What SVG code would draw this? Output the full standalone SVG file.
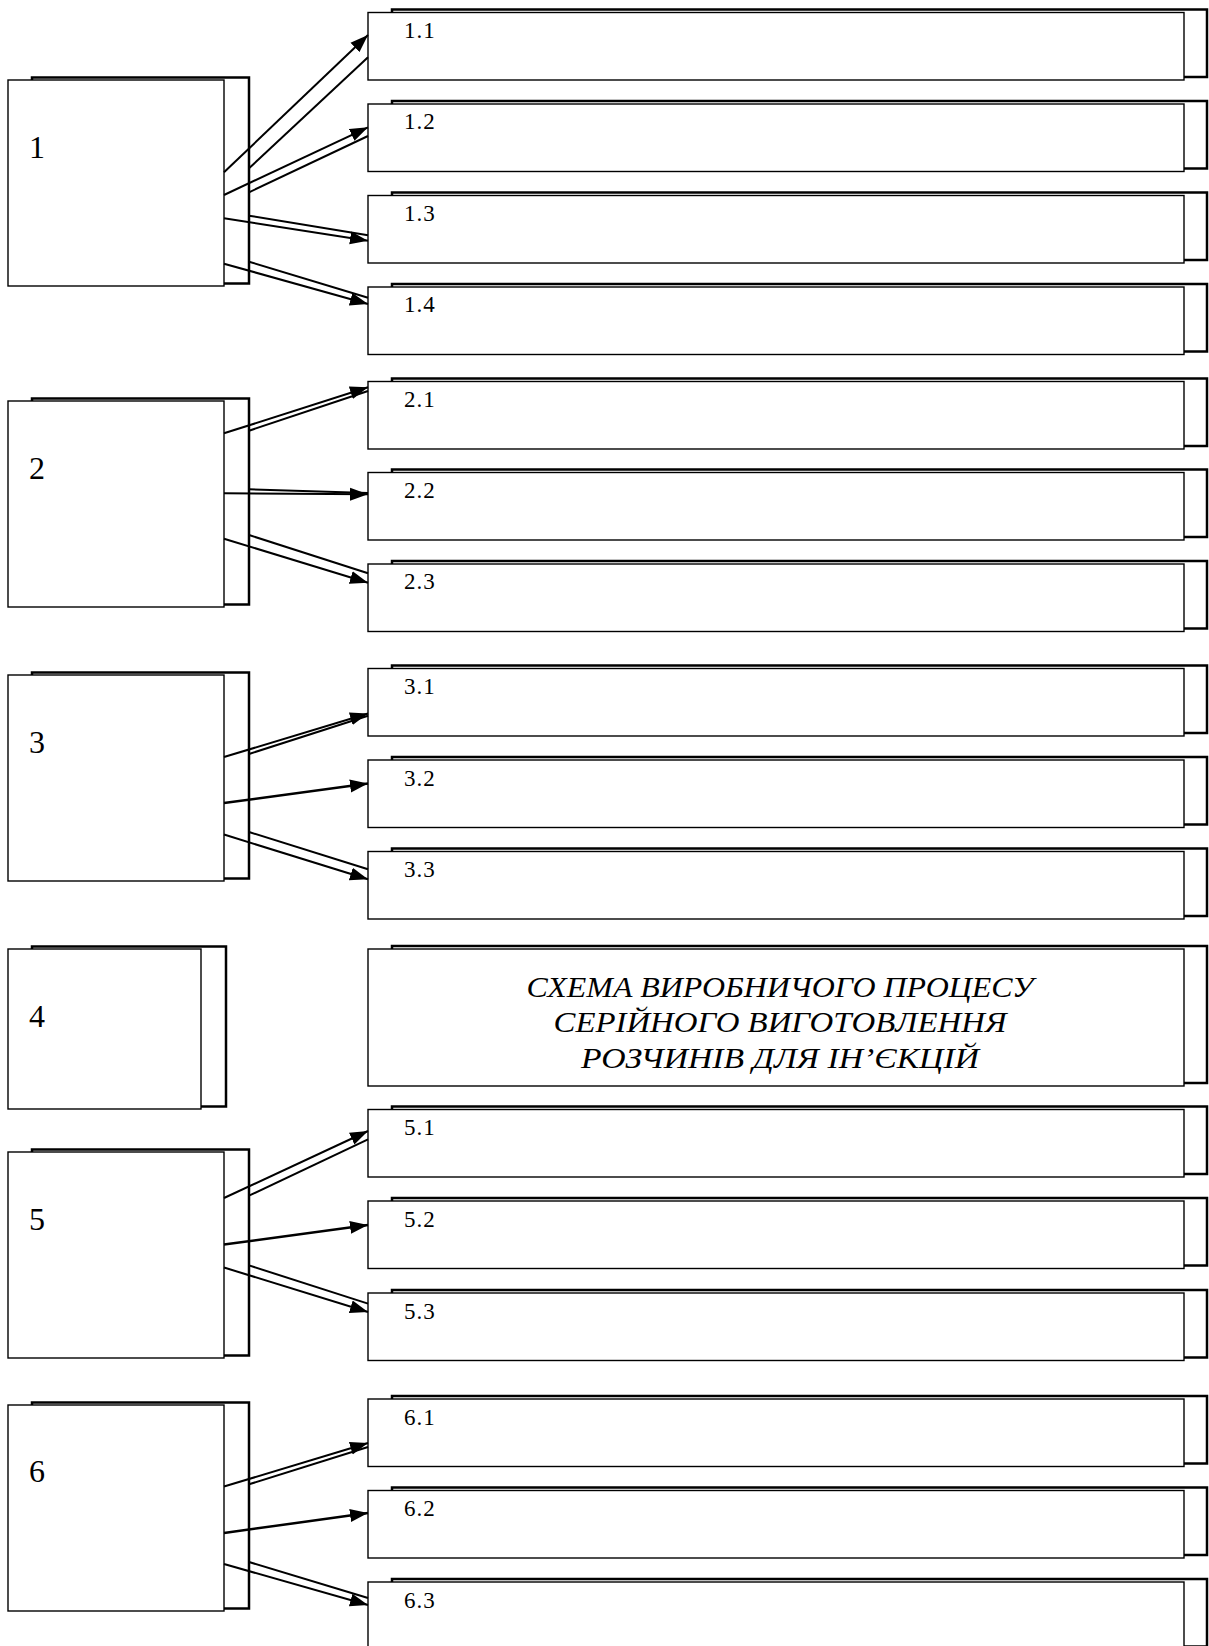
<svg xmlns="http://www.w3.org/2000/svg" width="1209" height="1646" viewBox="0 0 1209 1646">
<style>
.back{fill:#fff;stroke:#000;stroke-width:2.5}
.front{fill:#fff;stroke:#000;stroke-width:1.4}
.lbl{font-family:"Liberation Serif","Times New Roman",serif;font-size:32px;fill:#000}
.sub{font-size:23px;letter-spacing:1px}
.title{font-family:"Liberation Serif","Times New Roman",serif;font-size:30px;font-style:italic;fill:#000;text-anchor:middle}
#connectors line{stroke:#000;stroke-width:2;fill:none}
#connectors .a{marker-end:url(#ah)}
</style>
<defs>
<marker id="ah" markerUnits="userSpaceOnUse" markerWidth="20" markerHeight="14" refX="18" refY="7" orient="auto">
<path d="M0,0.5 L18,7 L0,13.5 z" fill="#000"/>
</marker>
</defs>
<rect width="1209" height="1646" fill="#fff"/>

<!-- source nodes -->
<g id="n1"><rect class="back" x="32" y="77.5" width="217" height="206"/><rect class="front" x="8" y="80" width="216" height="206"/><text class="lbl" x="29" y="158">1</text></g>
<g id="n2"><rect class="back" x="32" y="398.5" width="217" height="206"/><rect class="front" x="8" y="401" width="216" height="206"/><text class="lbl" x="29" y="479">2</text></g>
<g id="n3"><rect class="back" x="32" y="672.5" width="217" height="206"/><rect class="front" x="8" y="675" width="216" height="206"/><text class="lbl" x="29" y="753">3</text></g>
<g id="n4"><rect class="back" x="32" y="946.5" width="194" height="160"/><rect class="front" x="8" y="949" width="193" height="160"/><text class="lbl" x="29" y="1027">4</text></g>
<g id="n5"><rect class="back" x="32" y="1149.5" width="217" height="206"/><rect class="front" x="8" y="1152" width="216" height="206"/><text class="lbl" x="29" y="1230">5</text></g>
<g id="n6"><rect class="back" x="32" y="1402.5" width="217" height="206"/><rect class="front" x="8" y="1405" width="216" height="206"/><text class="lbl" x="29" y="1482">6</text></g>

<!-- target nodes -->
<g id="n1_1"><rect class="back" x="392" y="9.5" width="815" height="67.5"/><rect class="front" x="368" y="12.5" width="816" height="67.5"/><text class="lbl sub" x="404" y="37.5">1.1</text></g>
<g id="n1_2"><rect class="back" x="392" y="101" width="815" height="67.5"/><rect class="front" x="368" y="104" width="816" height="67.5"/><text class="lbl sub" x="404" y="129">1.2</text></g>
<g id="n1_3"><rect class="back" x="392" y="192.5" width="815" height="67.5"/><rect class="front" x="368" y="195.5" width="816" height="67.5"/><text class="lbl sub" x="404" y="220.5">1.3</text></g>
<g id="n1_4"><rect class="back" x="392" y="284" width="815" height="67.5"/><rect class="front" x="368" y="287" width="816" height="67.5"/><text class="lbl sub" x="404" y="312">1.4</text></g>

<g id="n2_1"><rect class="back" x="392" y="378.5" width="815" height="67.5"/><rect class="front" x="368" y="381.5" width="816" height="67.5"/><text class="lbl sub" x="404" y="406.5">2.1</text></g>
<g id="n2_2"><rect class="back" x="392" y="469.5" width="815" height="67.5"/><rect class="front" x="368" y="472.5" width="816" height="67.5"/><text class="lbl sub" x="404" y="497.5">2.2</text></g>
<g id="n2_3"><rect class="back" x="392" y="561" width="815" height="67.5"/><rect class="front" x="368" y="564" width="816" height="67.5"/><text class="lbl sub" x="404" y="589">2.3</text></g>

<g id="n3_1"><rect class="back" x="392" y="665.5" width="815" height="67.5"/><rect class="front" x="368" y="668.5" width="816" height="67.5"/><text class="lbl sub" x="404" y="694">3.1</text></g>
<g id="n3_2"><rect class="back" x="392" y="757" width="815" height="67.5"/><rect class="front" x="368" y="760" width="816" height="67.5"/><text class="lbl sub" x="404" y="785.5">3.2</text></g>
<g id="n3_3"><rect class="back" x="392" y="848.5" width="815" height="67.5"/><rect class="front" x="368" y="851.5" width="816" height="67.5"/><text class="lbl sub" x="404" y="877">3.3</text></g>

<g id="title"><rect class="back" x="392" y="946" width="815" height="137"/><rect class="front" x="368" y="949" width="816" height="137"/>
<text class="title" x="780" y="997" textLength="507" lengthAdjust="spacingAndGlyphs">СХЕМА ВИРОБНИЧОГО ПРОЦЕСУ</text>
<text class="title" x="780" y="1032" textLength="453" lengthAdjust="spacingAndGlyphs">СЕРІЙНОГО ВИГОТОВЛЕННЯ</text>
<text class="title" x="780" y="1068" textLength="398" lengthAdjust="spacingAndGlyphs">РОЗЧИНІВ ДЛЯ ІН’ЄКЦІЙ</text>
</g>

<g id="n5_1"><rect class="back" x="392" y="1106.5" width="815" height="67.5"/><rect class="front" x="368" y="1109.5" width="816" height="67.5"/><text class="lbl sub" x="404" y="1135">5.1</text></g>
<g id="n5_2"><rect class="back" x="392" y="1198" width="815" height="67.5"/><rect class="front" x="368" y="1201" width="816" height="67.5"/><text class="lbl sub" x="404" y="1226.5">5.2</text></g>
<g id="n5_3"><rect class="back" x="392" y="1290" width="815" height="67.5"/><rect class="front" x="368" y="1293" width="816" height="67.5"/><text class="lbl sub" x="404" y="1318.5">5.3</text></g>

<g id="n6_1"><rect class="back" x="392" y="1396" width="815" height="67.5"/><rect class="front" x="368" y="1399" width="816" height="67.5"/><text class="lbl sub" x="404" y="1424.5">6.1</text></g>
<g id="n6_2"><rect class="back" x="392" y="1487.5" width="815" height="67.5"/><rect class="front" x="368" y="1490.5" width="816" height="67.5"/><text class="lbl sub" x="404" y="1516">6.2</text></g>
<g id="n6_3"><rect class="back" x="392" y="1579" width="815" height="67.5"/><rect class="front" x="368" y="1582" width="816" height="67.5"/><text class="lbl sub" x="404" y="1607.5">6.3</text></g>

<!-- connectors -->
<g id="connectors">
<line class="a" x1="224" y1="172.3" x2="368" y2="35"/><line x1="249" y1="168.3" x2="368" y2="57.3"/>
<line class="a" x1="224" y1="195" x2="368" y2="127.3"/><line x1="249" y1="192.3" x2="368" y2="136"/>
<line class="a" x1="224" y1="218.3" x2="368" y2="240.7"/><line x1="249" y1="215.7" x2="368" y2="235.3"/>
<line class="a" x1="224" y1="263.7" x2="368" y2="304"/><line x1="249" y1="261.7" x2="368" y2="297.7"/>

<line class="a" x1="224" y1="433.3" x2="368" y2="387.3"/><line x1="249" y1="430.7" x2="368" y2="391"/>
<line class="a" x1="224" y1="493.3" x2="368" y2="494.3"/><line x1="249" y1="489.3" x2="368" y2="493"/>
<line class="a" x1="224" y1="538.7" x2="368" y2="582.7"/><line x1="249" y1="535" x2="368" y2="573.3"/>

<line class="a" x1="224" y1="757" x2="368" y2="713.5"/><line x1="249" y1="754" x2="368" y2="715.7"/>
<line class="a" x1="224" y1="803" x2="368" y2="783.6" style="stroke-width:2.5"/>
<line class="a" x1="224" y1="834.5" x2="368" y2="879.3"/><line x1="249" y1="832" x2="368" y2="869.3"/>

<line class="a" x1="224" y1="1198" x2="368" y2="1131"/><line x1="249" y1="1195.7" x2="368" y2="1139.3"/>
<line class="a" x1="224" y1="1244.6" x2="368" y2="1225" style="stroke-width:2.5"/>
<line class="a" x1="224" y1="1267.5" x2="368" y2="1312"/><line x1="249" y1="1265.4" x2="368" y2="1303.6"/>

<line class="a" x1="224" y1="1486.5" x2="368" y2="1443"/><line x1="249" y1="1484.3" x2="368" y2="1447"/>
<line class="a" x1="224" y1="1533" x2="368" y2="1513" style="stroke-width:2.5"/>
<line class="a" x1="224" y1="1564" x2="368" y2="1605"/><line x1="249" y1="1562" x2="368" y2="1598"/>
</g>
</svg>
